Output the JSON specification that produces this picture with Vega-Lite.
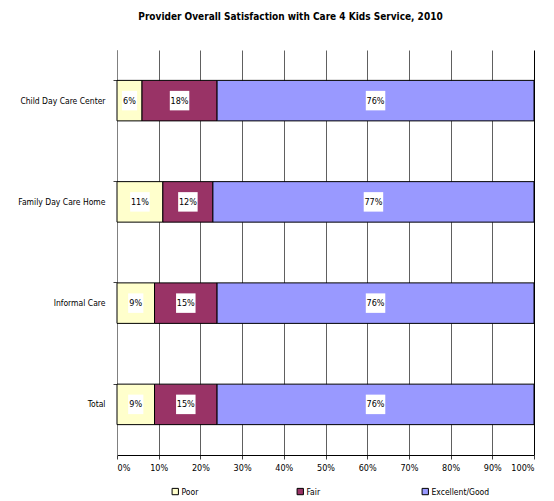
{
  "$schema": "https://vega.github.io/schema/vega-lite/v6.json",
  "width": 417,
  "height": 405,
  "autosize": {"type": "none"},
  "padding": {"left": 117, "top": 50, "right": 20, "bottom": 46},
  "background": "white",
  "config": {
    "font": "DejaVu Sans Condensed, Liberation Sans",
    "view": {"stroke": null}
  },
  "title": {
    "text": "Provider Overall Satisfaction with Care 4 Kids Service, 2010",
    "font": "DejaVu Sans Condensed, Liberation Sans",
    "fontSize": 10,
    "fontWeight": "bold",
    "anchor": "middle",
    "dx": -35,
    "offset": 28,
    "color": "black"
  },
  "data": {
    "values": [
      {"category": "Child Day Care Center", "rating": "Poor", "value": 0.06, "order": 1},
      {"category": "Child Day Care Center", "rating": "Fair", "value": 0.18, "order": 2},
      {"category": "Child Day Care Center", "rating": "Excellent/Good", "value": 0.76, "order": 3},
      {"category": "Family Day Care Home", "rating": "Poor", "value": 0.11, "order": 1},
      {"category": "Family Day Care Home", "rating": "Fair", "value": 0.12, "order": 2},
      {"category": "Family Day Care Home", "rating": "Excellent/Good", "value": 0.77, "order": 3},
      {"category": "Informal Care", "rating": "Poor", "value": 0.09, "order": 1},
      {"category": "Informal Care", "rating": "Fair", "value": 0.15, "order": 2},
      {"category": "Informal Care", "rating": "Excellent/Good", "value": 0.76, "order": 3},
      {"category": "Total", "rating": "Poor", "value": 0.09, "order": 1},
      {"category": "Total", "rating": "Fair", "value": 0.15, "order": 2},
      {"category": "Total", "rating": "Excellent/Good", "value": 0.76, "order": 3}
    ]
  },
  "transform": [
    {"stack": "value", "groupby": ["category"], "sort": [{"field": "order", "order": "ascending"}], "as": ["v0", "v1"]},
    {"calculate": "(datum.v0 + datum.v1) / 2", "as": "mid"}
  ],
  "encoding": {
    "y": {
      "field": "category",
      "type": "nominal",
      "sort": ["Child Day Care Center", "Family Day Care Home", "Informal Care", "Total"],
      "title": null,
      "scale": {"paddingInner": 0.6, "paddingOuter": 0.3},
      "axis": {
        "bandPosition": 0,
        "domainColor": "#808080",
        "tickColor": "#404040",
        "tickSize": 4,
        "labelPadding": 8,
        "labelFontSize": 8.5,
        "labelColor": "black",
        "labelFont": "DejaVu Sans Condensed, Liberation Sans",
        "grid": false
      }
    }
  },
  "layer": [
    {
      "mark": {"type": "bar", "stroke": "black", "strokeWidth": 1},
      "encoding": {
        "x": {
          "field": "v0",
          "type": "quantitative",
          "scale": {"domain": [0, 1], "nice": false},
          "title": null,
          "axis": {
            "values": [0, 0.1, 0.2, 0.3, 0.4, 0.5, 0.6, 0.7, 0.8, 0.9, 1],
            "format": ".0%",
            "grid": true,
            "gridColor": {"condition": {"test": "datum.value === 1", "value": "black"}, "value": "#606060"},
            "gridWidth": 1,
            "domainColor": "black",
            "tickColor": "#404040",
            "tickSize": 4,
            "labelPadding": 4,
            "labelFontSize": 9,
            "labelColor": "black",
            "labelFont": "DejaVu Sans Condensed, Liberation Sans"
          }
        },
        "x2": {"field": "v1"},
        "color": {
          "field": "rating",
          "type": "nominal",
          "scale": {
            "domain": ["Poor", "Fair", "Excellent/Good"],
            "range": ["#FFFFCC", "#993366", "#9999FF"]
          },
          "legend": {
            "title": null,
            "orient": "none",
            "direction": "horizontal",
            "columns": 3,
            "gridAlign": "all",
            "legendX": 54,
            "legendY": 437,
            "columnPadding": 55,
            "symbolType": "square",
            "symbolSize": 40,
            "symbolStrokeColor": "black",
            "symbolStrokeWidth": 1,
            "symbolOpacity": 1,
            "labelFontSize": 8.5,
            "labelOffset": 2,
            "labelColor": "black",
            "labelFont": "DejaVu Sans Condensed, Liberation Sans"
          }
        }
      }
    },
    {
      "mark": {"type": "point", "filled": true, "fill": "white", "opacity": 1, "strokeWidth": 0},
      "encoding": {
        "x": {"field": "mid", "type": "quantitative"},
        "shape": {
          "condition": {"test": "datum.value < 0.1", "value": "M-0.78,-1H0.78V1H-0.78Z"},
          "value": "square"
        },
        "size": {"value": 380}
      }
    },
    {
      "mark": {"type": "text", "fontSize": 9, "color": "black", "font": "DejaVu Sans Condensed, Liberation Sans"},
      "encoding": {
        "x": {"field": "mid", "type": "quantitative"},
        "text": {"field": "value", "type": "quantitative", "format": ".0%"}
      }
    }
  ]
}
